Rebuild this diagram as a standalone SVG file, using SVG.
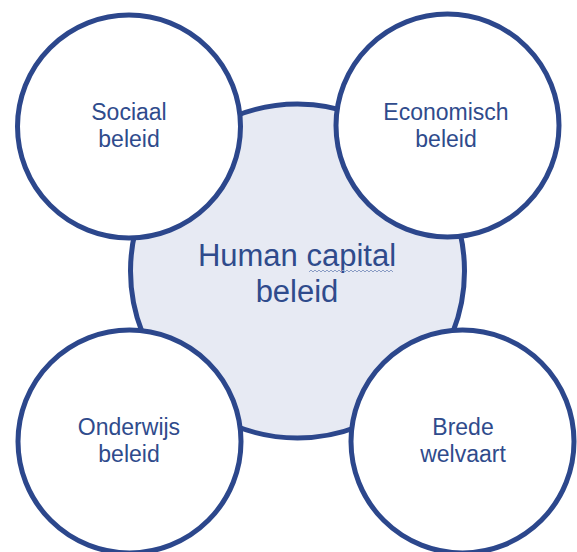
<svg xmlns="http://www.w3.org/2000/svg" width="577" height="552" viewBox="0 0 577 552">
  <style>
    .ring { stroke: #2c478c; stroke-width: 5; }
    .hub { fill: #e7eaf3; }
    .spoke { fill: #ffffff; }
    .label { font-family: "Liberation Sans", Arial, sans-serif; fill: #2f4b8c; text-anchor: middle; }
    .small { font-size: 23px; }
    .big { font-size: 31px; }
    .squiggle { fill: none; stroke: #8a9cc4; stroke-width: 1; }
  </style>
  <rect width="577" height="552" fill="#ffffff"/>

  <!-- central node -->
  <g id="human-capital">
    <circle class="ring hub" cx="297.5" cy="271" r="167"/>
    <text class="label big" x="297" y="266">Human capital</text>
    <path class="squiggle" d="M309 272 l2 -2 l2 2 l2 -2 l2 2 l2 -2 l2 2 l2 -2 l2 2 l2 -2 l2 2 l2 -2 l2 2 l2 -2 l2 2 l2 -2 l2 2 l2 -2 l2 2 l2 -2 l2 2 l2 -2 l2 2 l2 -2 l2 2 l2 -2 l2 2 l2 -2 l2 2 l2 -2 l2 2 l2 -2 l2 2 l2 -2 l2 2 l2 -2 l2 2 l2 -2 l2 2 l2 -2 l2 2 l2 -2 l2 2"/>
    <text class="label big" x="297" y="302">beleid</text>
  </g>

  <!-- surrounding nodes -->
  <g id="sociaal-beleid">
    <circle class="ring spoke" cx="129" cy="126.5" r="111.5"/>
    <text class="label small" x="129" y="120">Sociaal</text>
    <text class="label small" x="129" y="147">beleid</text>
  </g>

  <g id="economisch-beleid">
    <circle class="ring spoke" cx="447.5" cy="125.5" r="111.5"/>
    <text class="label small" x="446" y="120">Economisch</text>
    <text class="label small" x="446" y="147">beleid</text>
  </g>

  <g id="onderwijs-beleid">
    <circle class="ring spoke" cx="129.5" cy="441.5" r="111.5"/>
    <text class="label small" x="129" y="435">Onderwijs</text>
    <text class="label small" x="129" y="462">beleid</text>
  </g>

  <g id="brede-welvaart">
    <circle class="ring spoke" cx="462.5" cy="441.5" r="111.5"/>
    <text class="label small" x="463" y="435">Brede</text>
    <text class="label small" x="463" y="462">welvaart</text>
  </g>

  <!-- no connectors: the nodes touch directly -->
  <g id="connectors"/>
</svg>
